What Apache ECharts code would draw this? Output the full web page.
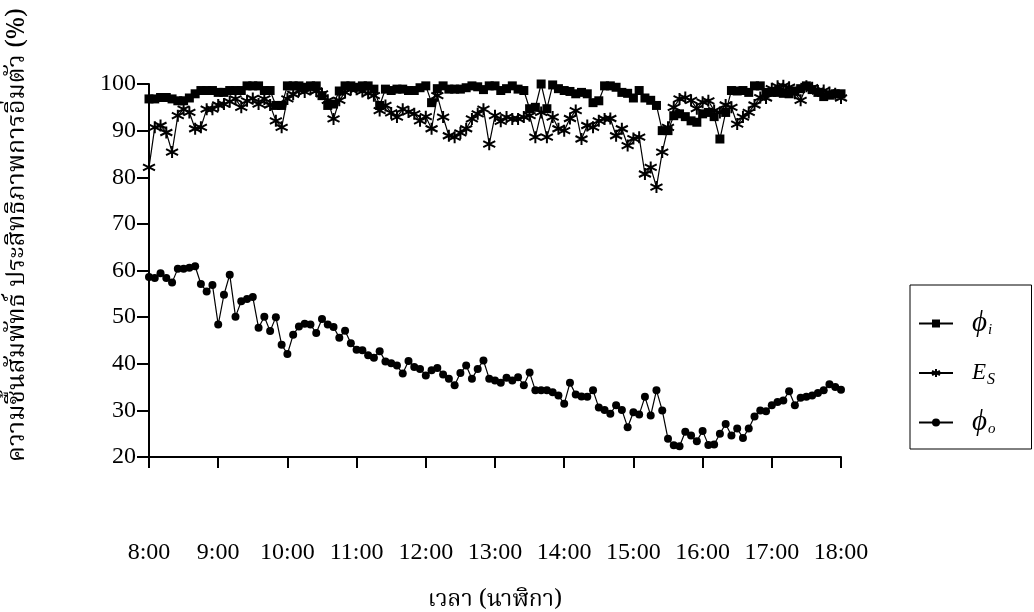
<!DOCTYPE html>
<html>
<head>
<meta charset="utf-8">
<script src="https://cdn.jsdelivr.net/npm/echarts@6/dist/echarts.min.js"></script>
<style>
html,body{margin:0;padding:0;background:#fff;}
#chart{width:1034px;height:612px;}
</style>
</head>
<body>
<div id="chart"></div>
<script>
// Time categories (5-minute readings)
const times = [
'8:00','8:05','8:10','8:15','8:20','8:25','8:30','8:35','8:40','8:45','8:50','8:55',
'9:00','9:05','9:10','9:15','9:20','9:25','9:30','9:35','9:40','9:45','9:50','9:55',
'10:00','10:05','10:10','10:15','10:20','10:25','10:30','10:35','10:40','10:45','10:50','10:55',
'11:00','11:05','11:10','11:15','11:20','11:25','11:30','11:35','11:40','11:45','11:50','11:55',
'12:00','12:05','12:10','12:15','12:20','12:25','12:30','12:35','12:40','12:45','12:50','12:55',
'13:00','13:05','13:10','13:15','13:20','13:25','13:30','13:35','13:40','13:45','13:50','13:55',
'14:00','14:05','14:10','14:15','14:20','14:25','14:30','14:35','14:40','14:45','14:50','14:55',
'15:00','15:05','15:10','15:15','15:20','15:25','15:30','15:35','15:40','15:45','15:50','15:55',
'16:00','16:05','16:10','16:15','16:20','16:25','16:30','16:35','16:40','16:45','16:50','16:55',
'17:00','17:05','17:10','17:15','17:20','17:25','17:30','17:35','17:40','17:45','17:50','17:55',
'18:00'];

const tickLabels = ['8:00','9:00','10:00','11:00','12:00','13:00','14:00','15:00','16:00','17:00','18:00'];
const yTicks = [20,30,40,50,60,70,80,90,100];

// phi_i : relative humidity of inlet air (%)
const phiI = [
96.8,96.8,97.1,97.1,96.8,96.4,96.4,97.0,97.9,98.6,98.6,98.6,
98.2,98.2,98.6,98.6,98.6,99.6,99.6,99.6,98.6,98.6,95.4,95.4,
99.6,99.6,99.6,99.3,99.6,99.6,97.5,95.4,95.7,98.5,99.6,99.6,
99.3,99.6,99.6,98.9,95.4,98.9,98.6,98.9,98.9,98.6,98.6,99.2,
99.6,96.0,99.0,99.6,98.9,98.9,98.9,99.2,99.6,99.4,98.8,99.6,
99.6,98.6,99.0,99.6,98.9,98.6,94.7,95.0,100,94.7,99.8,99.0,
98.6,98.4,97.9,98.2,97.9,96.0,96.4,99.6,99.6,99.3,98.2,98.0,
97.0,98.6,97.0,96.5,95.4,90.0,90.0,93.2,93.6,93.0,92.1,91.8,
93.6,93.9,93.0,88.2,93.9,98.6,98.5,98.6,98.2,99.6,99.6,98.2,
98.2,98.2,98.0,97.9,98.5,99.0,99.6,98.8,98.2,97.3,97.6,97.9,
97.9];

// E_S : saturation efficiency (%)
const eS = [
82.1,90.7,91.1,89.6,85.4,93.2,94.6,93.9,90.4,90.7,94.6,94.6,
95.5,95.7,96.2,96.8,95.0,96.4,96.9,95.7,96.8,95.5,92.1,90.7,
96.8,97.8,98.6,98.3,98.9,98.5,97.9,96.5,92.5,96.5,98.2,98.8,
98.9,98.4,98.0,97.5,94.3,95.4,93.8,92.9,94.6,94.0,93.6,92.1,
93.0,90.4,97.5,92.9,88.9,88.6,89.5,90.4,92.5,93.6,94.6,87.1,
93.2,92.0,92.9,92.5,92.5,92.9,93.2,88.6,93.9,88.6,92.9,90.4,
90.0,92.6,94.3,88.2,91.1,90.7,92.1,92.5,92.6,88.9,90.4,86.8,
88.3,88.6,80.7,82.1,77.9,85.4,90.7,95.0,96.8,97.1,96.5,94.7,
96.1,96.4,94.3,93.9,95.5,95.0,91.4,92.9,93.9,95.5,97.1,97.0,
99.0,99.5,99.6,99.3,98.0,96.5,99.5,99.2,98.5,98.6,98.2,97.9,
97.0];

// phi_o : relative humidity of outlet air (%)
const phiO = [
58.6,58.4,59.4,58.4,57.4,60.4,60.4,60.6,60.9,57.1,55.5,56.9,
48.4,54.8,59.1,50.1,53.4,53.9,54.3,47.7,50.1,47.0,50.0,44.1,
42.1,46.2,48.0,48.6,48.4,46.6,49.6,48.4,47.9,45.6,47.1,44.4,
43.0,42.9,41.8,41.3,42.7,40.5,40.1,39.6,37.9,40.6,39.3,38.9,
37.5,38.6,39.1,37.7,36.8,35.4,38.0,39.6,36.8,38.9,40.7,36.8,
36.4,35.9,37.0,36.4,37.1,35.4,38.1,34.3,34.3,34.3,33.9,33.2,
31.4,35.9,33.4,33.0,32.9,34.3,30.6,30.1,29.3,31.1,30.1,26.4,
29.6,29.1,32.9,28.9,34.3,30.0,23.9,22.5,22.3,25.4,24.6,23.4,
25.6,22.6,22.7,25.0,27.1,24.6,26.1,24.1,26.1,28.7,30.0,29.8,
31.1,31.8,32.1,34.1,31.1,32.7,32.9,33.2,33.7,34.3,35.6,35.0,
34.4];

const seriesNames = ['phiI','eS','phiO'];
const SERIF = '"Liberation Serif","Times New Roman","DejaVu Serif",serif';
const THAI = '"Noto Serif Thai","Norasi","Tlwg Typo","Noto Sans Thai","Loma","Garuda","Noto Sans","DejaVu Sans",sans-serif';

const asterisk = 'path://M5,0 L5,10 M0.7,2.5 L9.3,7.5 M0.7,7.5 L9.3,2.5';

const chart = echarts.init(document.getElementById('chart'), null, {renderer:'canvas'});

const legendLabel = {
  phiI: '{s|}{p|ϕ}{b|i}',
  eS: '{s|}{e|E}{c|S}',
  phiO: '{s|}{p|ϕ}{b|o}'
};

chart.setOption({
  animation: false,
  backgroundColor: '#fff',
  grid: {left: 149, right: 193, top: 84, bottom: 155, containLabel: false, outerBoundsMode: 'none'},
  xAxis: {
    type: 'category',
    data: times,
    boundaryGap: false,
    axisLine: {lineStyle: {color: '#000', width: 2}},
    axisTick: {
      inside: false, length: 11,
      interval: (i, v) => tickLabels.indexOf(v) >= 0,
      lineStyle: {color: '#000', width: 2}
    },
    axisLabel: {
      interval: (i, v) => tickLabels.indexOf(v) >= 0,
      margin: 84, color: '#000', fontFamily: SERIF, fontSize: 24
    },
    splitLine: {show: false},
    name: 'เวลา (นาฬิกา)',
    nameLocation: 'middle',
    nameGap: 134,
    nameTextStyle: {color: '#000', fontFamily: THAI, fontSize: 23}
  },
  yAxis: {
    type: 'value',
    min: yTicks[0], max: yTicks[yTicks.length - 1], interval: 10,
    axisLine: {show: true, lineStyle: {color: '#000', width: 2}},
    axisTick: {show: true, inside: false, length: 12, lineStyle: {color: '#000', width: 2}},
    axisLabel: {margin: 13, color: '#000', fontFamily: SERIF, fontSize: 24},
    splitLine: {show: false}
  },
  graphic: [{
    type: 'text',
    x: 20, y: 235,
    rotation: Math.PI / 2,
    style: {
      text: 'ความชื้นสัมพัทธ์ ประสิทธิภาพการอิ่มตัว (%)',
      fill: '#000',
      font: '25px ' + THAI,
      align: 'center',
      verticalAlign: 'middle'
    }
  }],
  legend: {
    orient: 'vertical',
    left: 910, top: 285,
    padding: [24, 36, 12, 8],
    itemGap: 20,
    itemWidth: 34, itemHeight: 10,
    borderColor: '#000', borderWidth: 1,
    data: seriesNames,
    formatter: n => legendLabel[n],
    textStyle: {
      color: '#000', fontFamily: SERIF,
      rich: {
        s: {width: 14, lineHeight: 30},
        p: {fontSize: 29, fontStyle: 'italic', fontFamily: SERIF, lineHeight: 30},
        e: {fontSize: 23, fontStyle: 'italic', fontFamily: SERIF, lineHeight: 30},
        b: {fontSize: 15, fontStyle: 'italic', fontFamily: SERIF, lineHeight: 30, padding: [14, 0, 0, 1]},
        c: {fontSize: 16, fontStyle: 'italic', fontFamily: SERIF, lineHeight: 30, padding: [14, 0, 0, 1]}
      }
    }
  },
  series: [
    {
      name: 'phiI', type: 'line', data: phiI,
      symbol: 'rect', symbolSize: 9, showAllSymbol: true,
      lineStyle: {color: '#000', width: 1.2},
      itemStyle: {color: '#000'}
    },
    {
      name: 'eS', type: 'line', data: eS,
      symbol: asterisk, symbolSize: [12, 12], showAllSymbol: true,
      lineStyle: {color: '#000', width: 1.2},
      itemStyle: {color: '#000', borderColor: '#000', borderWidth: 2}
    },
    {
      name: 'phiO', type: 'line', data: phiO,
      symbol: 'circle', symbolSize: 8, showAllSymbol: true,
      lineStyle: {color: '#000', width: 1.2},
      itemStyle: {color: '#000'}
    }
  ]
});
</script>
</body>
</html>
